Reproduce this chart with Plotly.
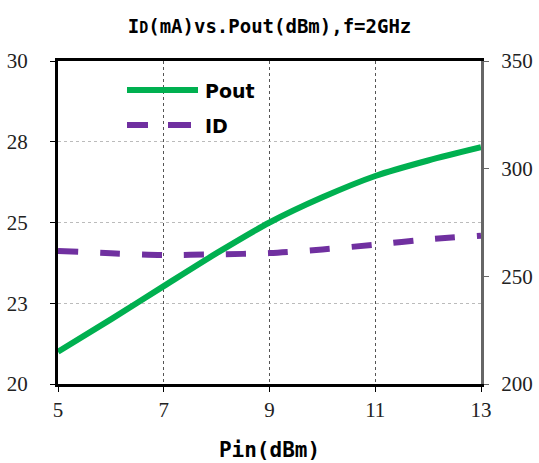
import plotly.graph_objects as go

# Input power sweep (dBm)
pin = [5, 6, 7, 8, 9, 10, 11, 12, 13]
# Output power (dBm) - left axis
pout = [21.0, 22.0, 23.03, 24.05, 25.0, 25.78, 26.44, 26.92, 27.33]
# Drain current (mA) - right axis
id_ma = [261.8, 260.7, 259.9, 260.2, 260.8, 262.5, 264.7, 267.2, 268.9]

x_ticks = [5, 7, 9, 11, 13]
y1_ticks = [20, 22.5, 25, 27.5, 30]
y1_labels = ["20", "23", "25", "28", "30"]
y2_ticks = [200, 250, 300, 350]

GREEN = "#00B050"
PURPLE = "#7030A0"
TICK_FONT = dict(family="Liberation Serif", size=21, color="#222")

fig = go.Figure()
fig.add_trace(go.Scatter(x=pin, y=pout, mode="lines", name="Pout",
                         line=dict(color=GREEN, width=6, shape="spline", smoothing=0.8),
                         showlegend=False))
fig.add_trace(go.Scatter(x=pin, y=id_ma, mode="lines", name="ID", yaxis="y2",
                         line=dict(color=PURPLE, width=6, dash="20px,22px",
                                   shape="spline", smoothing=0.8),
                         showlegend=False))

# Legend keys
fig.add_shape(type="line", xref="paper", yref="paper",
              x0=(127 - 58) / 423, x1=(198 - 58) / 423,
              y0=(384 - 90) / 323, y1=(384 - 90) / 323,
              line=dict(color=GREEN, width=6))
for a, b in [(127, 148), (168, 191)]:
    fig.add_shape(type="line", xref="paper", yref="paper",
                  x0=(a - 58) / 423, x1=(b - 58) / 423,
                  y0=(384 - 125) / 323, y1=(384 - 125) / 323,
                  line=dict(color=PURPLE, width=6))
for label, ypx in [("Pout", 91), ("ID", 126)]:
    fig.add_annotation(text="<b>" + label + "</b>", xref="paper", yref="paper",
                       x=(203 - 58) / 423, y=(384 - ypx) / 323,
                       xanchor="left", yanchor="middle", showarrow=False,
                       font=dict(family="DejaVu Sans", size=19, color="#000"))

fig.update_layout(
    width=539, height=463,
    margin=dict(l=58, r=58, t=61, b=79),
    paper_bgcolor="white", plot_bgcolor="white",
    title=dict(text="<b>I<span style='font-size:15px'>D</span>(mA)vs.Pout(dBm),f=2GHz</b>",
               x=0.5, xref="paper", y=1 - 26 / 463, yanchor="middle",
               font=dict(family="DejaVu Sans Mono", size=19, color="#000")),
    xaxis=dict(range=[5, 13], tickvals=x_ticks, showgrid=True, automargin=False,
               gridcolor="#555", griddash="dot", gridwidth=1,
               showline=True, linecolor="#000", linewidth=3, mirror=True,
               ticks="outside", ticklen=5, tickcolor="#000",
               tickfont=TICK_FONT, zeroline=False,
               title=dict(text="<b>Pin(dBm)</b>", standoff=22,
                          font=dict(family="DejaVu Sans Mono", size=21, color="#000"))),
    yaxis=dict(range=[20, 30], tickvals=y1_ticks, ticktext=y1_labels, automargin=False,
               showgrid=True, gridcolor="#bbb", griddash="dot", gridwidth=1,
               showline=True, linecolor="#000", linewidth=3,
               ticks="outside", ticklen=5, tickcolor="#000",
               ticklabelstandoff=18, tickfont=TICK_FONT, zeroline=False),
    yaxis2=dict(range=[200, 350], tickvals=y2_ticks, overlaying="y", side="right",
                automargin=False,
                showgrid=False, showline=True, linecolor="#666", linewidth=3,
                ticks="outside", ticklen=5, tickcolor="#666",
                ticklabelstandoff=8, tickfont=TICK_FONT, zeroline=False),
)

fig.write_html("out.html")
